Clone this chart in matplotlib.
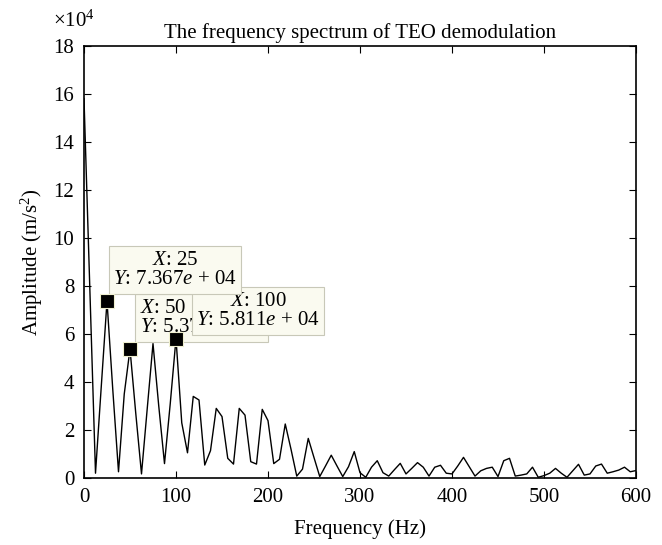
import numpy as np
import matplotlib
matplotlib.use("Agg")
import matplotlib.pyplot as plt
from matplotlib.ticker import FuncFormatter

# amplitude of the TEO demodulated spectrum, in units of 1e4 m/s^2,
# sampled every 6.25 Hz from 0 to 600 Hz
amp_1e4 = [
    15.8, 8.0, 0.2, 3.8, 7.367, 3.7, 0.26, 3.5, 5.373, 2.7,
    0.17, 2.9, 5.6, 3.0, 0.6, 3.1, 5.811, 2.3, 1.05, 3.4,
    3.25, 0.54, 1.14, 2.9, 2.56, 0.82, 0.58, 2.9, 2.62, 0.68,
    0.58, 2.86, 2.39, 0.6, 0.78, 2.25, 1.2, 0.08, 0.37, 1.65,
    0.85, 0.06, 0.5, 0.95, 0.5, 0.06, 0.47, 1.1, 0.22, 0.03,
    0.45, 0.72, 0.22, 0.08, 0.35, 0.61, 0.17, 0.4, 0.64, 0.45,
    0.08, 0.45, 0.53, 0.2, 0.17, 0.5, 0.86, 0.47, 0.08, 0.3,
    0.4, 0.45, 0.06, 0.72, 0.82, 0.08, 0.12, 0.17, 0.45, 0.03,
    0.1, 0.2, 0.4, 0.2, 0.03, 0.3, 0.57, 0.12, 0.17, 0.5,
    0.58, 0.2, 0.26, 0.33, 0.45, 0.26, 0.31,
]
freq_step = 6.25

# data tips
tip_freqs = [25, 50, 100]
tip_labels = [
    "$X$: 25\n$Y$: 7.367$e$ + 04",
    "$X$: 50\n$Y$: 5.373$e$ + 04",
    "$X$: 100\n$Y$: 5.811$e$ + 04",
]

amp = np.array(amp_1e4) * 1e4
freq = np.arange(len(amp)) * freq_step

plt.rcParams["font.family"] = "Liberation Serif"
plt.rcParams["mathtext.fontset"] = "custom"
plt.rcParams["mathtext.rm"] = "Liberation Serif"
plt.rcParams["mathtext.it"] = "Liberation Serif:italic"
plt.rcParams["font.size"] = 15

W, H = 662, 545
fig = plt.figure(figsize=(W / 100, H / 100), dpi=100)
ax = fig.add_axes([84 / W, 67 / H, 552 / W, 432 / H])

ax.plot(freq, amp, color="black", lw=1.0)

ax.set_xlim(0, 600)
ax.set_ylim(0, 18e4)
ax.set_xticks(np.arange(0, 601, 100))
ax.set_yticks(np.arange(0, 18.1e4, 2e4))
ax.yaxis.set_major_formatter(FuncFormatter(lambda v, p: f"{v / 1e4:g}"))
ax.text(53 / W, 518 / H, r"$\times$10$^4$", transform=fig.transFigure,
        ha="left", va="baseline", fontsize=15)

ax.tick_params(direction="in", top=True, right=True, length=5, width=0.8, pad=7)
for s in ax.spines.values():
    s.set_linewidth(1.2)

ax.set_title("The frequency spectrum of TEO demodulation", fontsize=15, pad=6)
ax.set_xlabel("Frequency (Hz)", labelpad=9)
ax.set_ylabel("Amplitude (m/s$^2$)", labelpad=6)

box_style = dict(boxstyle="square,pad=0.22", fc="#fafaf0", ec="#c8c8b8", lw=0.8)
# text anchor in pixels from top-left, alignment, stacking order
tip_pos = [(175, 270, "center"), (140, 318, "left"), (258, 311, "center")]
tip_z = [6, 4, 5]
for f, lab, (px, py, ha), z in zip(tip_freqs, tip_labels, tip_pos, tip_z):
    idx = int(round(f / freq_step))
    ax.plot(freq[idx], amp[idx], marker="s", ms=10, mfc="black",
            mec="#f0f0d0", mew=0.8, zorder=7, ls="none")
    ax.text(px / W, 1 - py / H, lab, transform=fig.transFigure,
            ha=ha, va="center", multialignment=ha,
            fontsize=15, linespacing=1.05, bbox=box_style, zorder=z)

fig.savefig("out.png", dpi=100)
